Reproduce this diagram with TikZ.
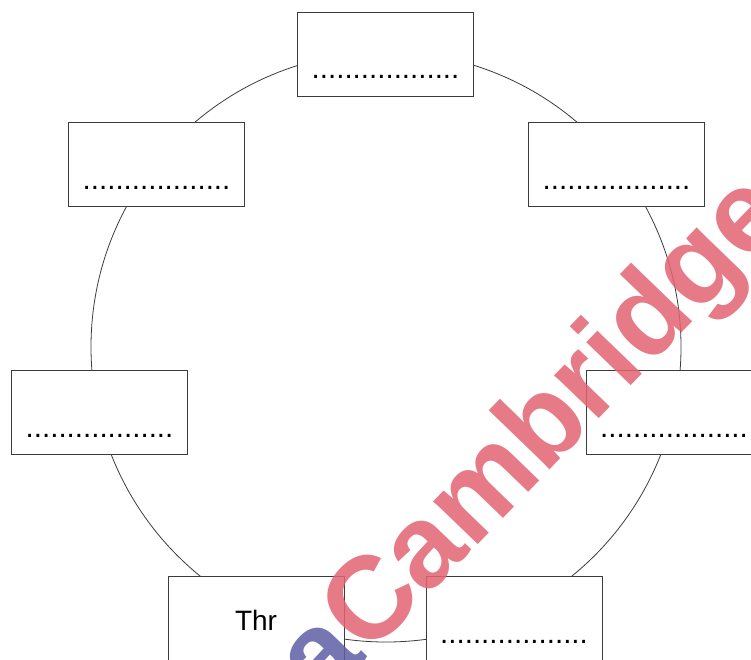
\documentclass[tikz,border=0pt]{standalone}
\usepackage{fontspec}
\setmainfont{Liberation Sans}
\definecolor{linegray}{RGB}{60,60,60}
\definecolor{wmred}{RGB}{226,100,114}
\definecolor{wmblue}{RGB}{95,95,165}
\begin{document}
\begin{tikzpicture}[x=1pt,y=-1pt,
  box/.style={draw=linegray, line width=0.9pt, fill=white, minimum width=176pt, minimum height=84pt, inner sep=0pt},
  blank/.style={anchor=base, inner sep=0pt, font=\fontsize{29.5}{34}\selectfont},
  wm/.style={anchor=base west, inner sep=0pt, rotate=46, font=\fontsize{117}{130}\selectfont\bfseries}]
\useasboundingbox (0,0) rectangle (751,659);
\clip (0,0) rectangle (751,659);
\fill[white] (0,0) rectangle (751,659);
\node[circle, draw=linegray, line width=0.8pt, minimum size=590pt, inner sep=0pt] (ring) at (386,347) {};
\node[box] (btop) at (385.5,54) {};
\node[box] (bul) at (156.5,164.5) {};
\node[box] (bur) at (616.5,164.5) {};
\node[box] (bl) at (99.5,412.5) {};
\node[box] (br) at (674,412.5) {};
\node[box] (bbl) at (256,618.5) {};
\node[box] (bbr) at (514,618.5) {};
\node[blank] (ttop) at ([yshift=-67pt]btop.north) {..................};
\node[blank] (tul) at ([yshift=-67pt]bul.north) {..................};
\node[blank] (tur) at ([yshift=-67pt]bur.north) {..................};
\node[blank] (tl) at ([yshift=-67pt]bl.north) {..................};
\node[blank] (tr) at ([yshift=-67pt]br.north) {..................};
\node[blank, font=\fontsize{28}{34}\selectfont] (tbbl) at ([yshift=-54pt]bbl.north) {Thr};
\node[blank] (tbbr) at ([yshift=-67pt]bbr.north) {..................};
\coordinate (wmstart) at (368,658);
\node[wm, text=wmred, opacity=0.85] (wmcam) at (wmstart) {Cambridge};
\node[wm, anchor=base east, text=wmblue, opacity=0.85] (wmpapa) at (wmstart) {Papa};
\end{tikzpicture}
\end{document}
